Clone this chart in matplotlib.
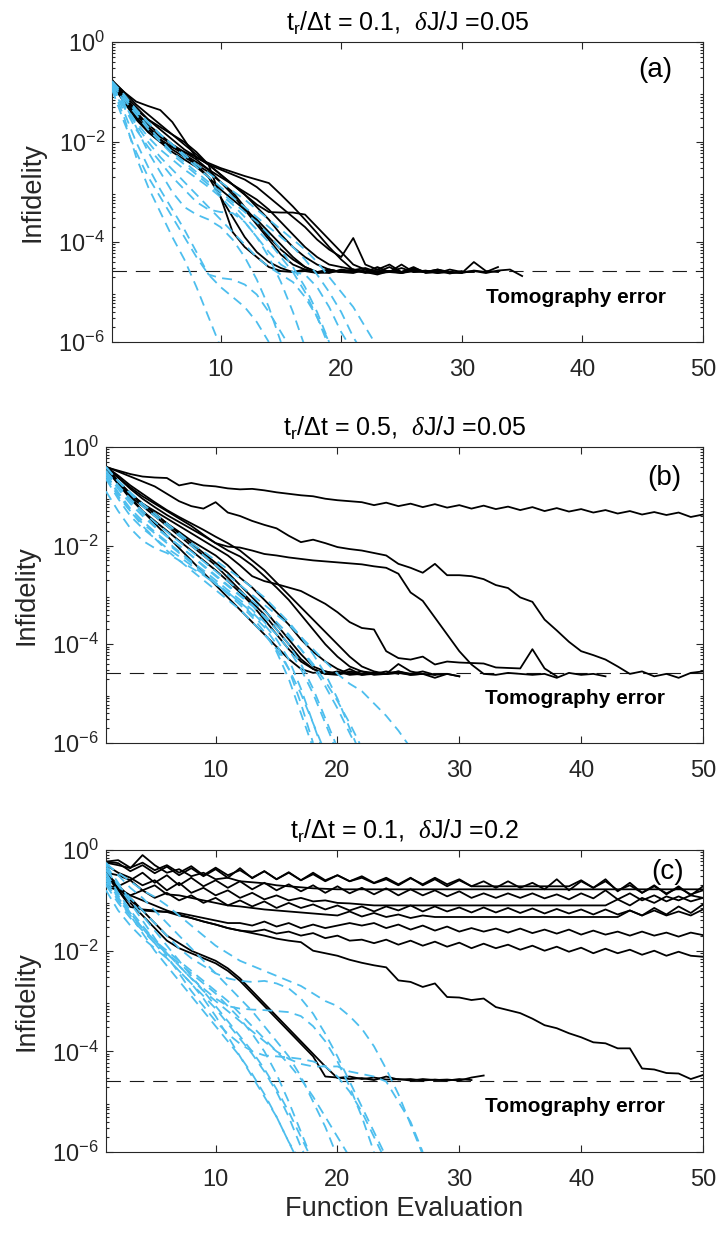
import numpy as np
import matplotlib
matplotlib.use("Agg")
import matplotlib.pyplot as plt
from matplotlib.ticker import LogLocator, LogFormatterMathtext, NullFormatter

plt.rcParams['font.family'] = ['Liberation Sans', 'DejaVu Sans']
plt.rcParams['mathtext.fontset'] = 'custom'
plt.rcParams['mathtext.rm'] = 'Liberation Sans'
plt.rcParams['mathtext.it'] = 'Liberation Serif:italic'
plt.rcParams['mathtext.bf'] = 'Liberation Sans:bold'

# log10(infidelity) per function evaluation (x = 1, 2, 3, ...)
tomo_err = 2.6e-5

# ---- panel (a): t_r/dt = 0.1, dJ/J = 0.05
a_black = [
    [-0.78, -1.0, -1.19, -1.28, -1.36, -1.6, -1.96, -2.32, -2.42, -2.52, -2.6, -2.68, -2.75, -2.82, -3.05,
     -3.29, -3.55, -3.82, -4.1, -4.35, -4.56, -4.52, -4.6, -4.58, -4.62, -4.55, -4.6, -4.57, -4.63, -4.58],
    [-0.8, -1.1, -1.35, -1.55, -1.7, -1.85, -2.0, -2.2, -2.45, -2.65, -2.85, -3.05, -3.25, -3.4, -3.41,
     -3.41, -3.45, -3.7, -3.95, -4.2, -4.45, -4.55, -4.6, -4.5, -4.62, -4.58, -4.6, -4.55, -4.6, -4.62,
     -4.57, -4.6, -4.5],
    [-0.82, -1.05, -1.3, -1.55, -1.75, -1.95, -2.15, -2.3, -2.45, -2.55, -2.65, -2.75, -2.9, -3.1, -3.3,
     -3.5, -3.7, -3.95, -4.15, -4.3, -3.92, -4.45, -4.55, -4.6, -4.52, -4.6, -4.57, -4.62, -4.55, -4.6,
     -4.58, -4.62, -4.57, -4.55, -4.68],
    [-0.75, -1.15, -1.5, -1.75, -1.95, -2.1, -2.2, -2.3, -2.45, -3.1, -3.8, -4.1, -4.3, -4.5, -4.58,
     -4.6, -4.55, -4.62, -4.6, -4.57, -4.6, -4.55, -4.62, -4.6],
    [-0.8, -1.1, -1.5, -1.8, -2.0, -2.2, -2.35, -2.5, -2.7, -3.1, -3.5, -3.9, -4.2, -4.4, -4.52,
     -4.6, -4.58, -4.62, -4.55, -4.6, -4.58, -4.6, -4.65, -4.58, -4.6, -4.55],
    [-0.78, -1.05, -1.4, -1.7, -1.95, -2.15, -2.3, -2.45, -2.6, -2.8, -3.0, -3.3, -3.6, -3.9, -4.15,
     -4.35, -4.5, -4.6, -4.55, -4.6, -4.62, -4.55, -4.6, -4.58, -4.6, -4.5, -4.62, -4.6],
    [-0.85, -1.2, -1.55, -1.8, -2.0, -2.1, -2.25, -2.4, -2.55, -2.7, -2.85, -3.0, -3.15, -3.35, -3.6,
     -3.85, -4.1, -4.3, -4.45, -4.5, -4.55, -4.6, -4.55, -4.45, -4.6, -4.58, -4.6, -4.55, -4.62, -4.6, -4.6],
    [-0.8, -1.1, -1.4, -1.65, -1.85, -2.05, -2.25, -2.45, -2.7, -2.95, -3.15, -3.35, -3.55, -3.8, -4.05,
     -4.3, -4.5, -4.6, -4.62, -4.55, -4.58, -4.6, -4.5, -4.6, -4.62, -4.55, -4.6],
    [-0.76, -1.0, -1.25, -1.45, -1.65, -1.85, -2.05, -2.25, -2.45, -2.65, -2.85, -3.05, -3.3, -3.55, -3.85,
     -4.1, -4.3, -4.45, -4.55, -4.6, -4.55, -4.62, -4.58, -4.6, -4.45, -4.6, -4.58, -4.62, -4.6],
    [-0.82, -1.15, -1.45, -1.7, -1.9, -2.05, -2.2, -2.35, -2.55, -2.8, -3.05, -3.35, -3.65, -3.95, -4.25,
     -4.45, -4.55, -4.6, -4.58, -4.6, -4.55, -4.6, -4.62, -4.58, -4.6, -4.52, -4.6, -4.58, -4.6, -4.62,
     -4.4, -4.58, -4.6],
]
a_blue = [
    [-0.9, -1.5, -2.3, -2.9, -3.4, -3.9, -4.35, -4.9, -5.5, -6.1],
    [-0.85, -1.4, -2.0, -2.5, -2.95, -3.35, -3.75, -4.2, -4.65, -4.72, -4.75, -4.85, -5.05, -5.4, -5.8, -6.2],
    [-0.8, -1.2, -1.7, -2.2, -2.6, -3.0, -3.3, -3.45, -3.55, -3.7, -3.95, -4.3, -4.75, -5.3, -6.0],
    [-0.9, -1.3, -1.75, -2.1, -2.4, -2.7, -2.95, -3.2, -3.35, -3.4, -3.42, -3.6, -3.9, -4.3, -4.8, -5.4, -6.1],
    [-0.8, -1.1, -1.4, -1.7, -1.95, -2.2, -2.4, -2.6, -2.8, -3.0, -3.2, -3.4, -3.6, -3.85, -4.15, -4.5,
     -4.9, -5.4, -6.0],
    [-0.85, -1.15, -1.45, -1.75, -2.0, -2.25, -2.45, -2.65, -2.85, -3.05, -3.25, -3.5, -3.75, -4.0, -4.3,
     -4.6, -5.0, -5.5, -6.1],
    [-0.78, -1.05, -1.35, -1.6, -1.85, -2.05, -2.3, -2.5, -2.7, -2.9, -3.1, -3.3, -3.5, -3.7, -3.9, -4.1,
     -4.35, -4.65, -5.0, -5.4, -5.9, -6.3],
    [-0.9, -1.3, -1.65, -2.0, -2.3, -2.55, -2.8, -3.05, -3.3, -3.55, -3.8, -4.05, -4.3, -4.5, -4.65, -4.8,
     -5.1, -5.5, -6.0],
    [-0.82, -1.1, -1.38, -1.62, -1.85, -2.05, -2.25, -2.45, -2.62, -2.8, -2.98, -3.15, -3.35, -3.55, -3.75,
     -3.95, -4.15, -4.4, -4.7, -5.0, -5.3, -5.7, -6.1],
    [-0.95, -1.6, -2.2, -2.7, -3.1, -3.5, -3.9, -4.3, -4.65, -4.9, -5.1, -5.3, -5.6, -6.0],
    [-0.88, -1.25, -1.6, -1.9, -2.15, -2.35, -2.55, -2.72, -2.9, -3.1, -3.35, -3.6, -3.9, -4.2, -4.45, -4.6,
     -4.65, -4.9, -5.3, -5.8, -6.2],
]

# ---- panel (b): t_r/dt = 0.5, dJ/J = 0.05
b_black = [
    [-0.41, -0.48, -0.55, -0.6, -0.62, -0.63, -0.78, -0.73, -0.78, -0.8, -0.84, -0.86, -0.85, -0.88, -0.92,
     -0.95, -0.98, -1.0, -1.05, -1.08, -1.1, -1.12, -1.18, -1.13, -1.2, -1.15, -1.22, -1.16, -1.23, -1.18,
     -1.25, -1.19, -1.26, -1.21, -1.28, -1.22, -1.3, -1.24, -1.31, -1.26, -1.33, -1.28, -1.35, -1.3, -1.37,
     -1.32, -1.38, -1.33, -1.42, -1.37],
    [-0.4, -0.5, -0.6, -0.7, -0.8, -0.95, -1.1, -1.2, -1.25, -1.12, -1.33, -1.4, -1.5, -1.58, -1.65,
     -1.8, -1.93, -1.88, -1.95, -2.03, -2.07, -2.1, -2.15, -2.2, -2.37, -2.45, -2.55, -2.37, -2.6, -2.6,
     -2.62, -2.68, -2.8, -2.86, -3.05, -3.14, -3.5, -3.72, -3.95, -4.14, -4.22, -4.31, -4.45, -4.6, -4.55,
     -4.65, -4.6, -4.68, -4.58, -4.55],
    [-0.4, -0.62, -0.82, -1.0, -1.15, -1.3, -1.45, -1.6, -1.78, -1.95, -2.02, -2.04, -2.1, -2.17, -2.2,
     -2.24, -2.27, -2.3, -2.32, -2.34, -2.36, -2.38, -2.42, -2.45, -2.57, -2.95, -3.12, -3.46, -3.8, -4.14,
     -4.41, -4.6, -4.62, -4.58, -4.6, -4.62, -4.6, -4.68, -4.58, -4.62, -4.6, -4.65],
    [-0.4, -0.7, -0.95, -1.15, -1.3, -1.45, -1.6, -1.75, -1.9, -2.05, -2.2, -2.4, -2.62, -2.72, -2.78,
     -2.85, -2.92, -3.05, -3.18, -3.35, -3.55, -3.67, -3.7, -4.14, -4.28, -4.31, -4.25, -4.41, -4.35, -4.37,
     -4.38, -4.39, -4.47, -4.48, -4.49, -4.1, -4.49, -4.65],
    [-0.4, -0.7, -1.0, -1.3, -1.55, -1.8, -2.05, -2.3, -2.55, -2.8, -3.05, -3.3, -3.55, -3.8, -4.05,
     -4.3, -4.5, -4.58, -4.55, -4.6, -4.5, -4.62, -4.58, -4.6, -4.55, -4.62, -4.6, -4.68, -4.6, -4.65],
    [-0.42, -0.7, -0.95, -1.15, -1.35, -1.55, -1.75, -1.95, -2.15, -2.35, -2.55, -2.8, -3.05, -3.3, -3.6,
     -3.9, -4.2, -4.45, -4.55, -4.6, -4.58, -4.62, -4.6, -4.55, -4.6],
    [-0.4, -0.58, -0.78, -0.95, -1.12, -1.28, -1.42, -1.55, -1.68, -1.82, -1.95, -2.1, -2.3, -2.5, -2.75,
     -3.0, -3.25, -3.5, -3.75, -4.0, -4.25, -4.45, -4.55, -4.6, -4.58, -4.62, -4.6],
    [-0.45, -0.75, -1.0, -1.2, -1.4, -1.6, -1.8, -2.0, -2.2, -2.4, -2.65, -2.9, -3.15, -3.4, -3.7,
     -4.0, -4.3, -4.5, -4.6, -4.55, -4.62, -4.6],
    [-0.4, -0.62, -0.85, -1.05, -1.22, -1.38, -1.52, -1.66, -1.8, -1.95, -2.1, -2.22, -2.4, -2.62, -2.85,
     -3.1, -3.4, -3.7, -4.0, -4.25, -4.45, -4.55, -4.58, -4.6, -4.4, -4.55, -4.6, -4.62],
    [-0.42, -0.75, -1.05, -1.3, -1.5, -1.7, -1.9, -2.1, -2.3, -2.5, -2.72, -2.95, -3.2, -3.5, -3.8,
     -4.1, -4.35, -4.5, -4.6, -4.62, -4.55, -4.6, -4.58, -4.6, -4.55, -4.6],
    [-0.4, -0.7, -0.95, -1.15, -1.35, -1.55, -1.72, -1.9, -2.05, -2.2, -2.4, -2.65, -2.85, -3.1, -3.35,
     -3.6, -3.9, -4.15, -4.35, -4.5, -4.6, -4.55, -4.62, -4.6, -4.58, -4.6, -4.55, -4.62, -4.6, -4.65],
]
b_blue = [
    [-0.55, -0.95, -1.3, -1.6, -1.85, -2.1, -2.3, -2.5, -2.7, -2.9, -3.1, -3.3, -3.55, -3.8, -4.1,
     -4.5, -5.0, -5.6, -6.2],
    [-0.5, -0.8, -1.1, -1.35, -1.6, -1.8, -2.0, -2.2, -2.4, -2.6, -2.8, -3.0, -3.2, -3.45, -3.7,
     -4.0, -4.4, -4.9, -5.5, -6.1],
    [-0.6, -1.0, -1.3, -1.55, -1.75, -1.95, -2.15, -2.35, -2.55, -2.75, -2.95, -3.15, -3.4, -3.65, -4.0,
     -4.5, -5.2, -6.0],
    [-0.9, -1.3, -1.65, -1.9, -2.05, -2.15, -2.3, -2.45, -2.6, -2.78, -2.95, -3.15, -3.35, -3.6, -3.9,
     -4.3, -4.9, -5.6, -6.3],
    [-0.42, -0.68, -0.92, -1.15, -1.35, -1.55, -1.75, -1.95, -2.12, -2.3, -2.48, -2.66, -2.85, -3.05, -3.3,
     -3.55, -3.85, -4.2, -4.6, -5.1, -5.7, -6.3],
    [-0.5, -0.85, -1.15, -1.4, -1.62, -1.82, -2.0, -2.2, -2.42, -2.62, -2.82, -3.02, -3.22, -3.42, -3.62,
     -3.85, -4.1, -4.4, -4.75, -5.15, -5.6, -6.1],
    [-0.4, -0.7, -0.95, -1.2, -1.4, -1.6, -1.8, -2.0, -2.2, -2.4, -2.6, -2.8, -3.0, -3.2, -3.4,
     -3.6, -3.85, -4.1, -4.35, -4.6, -4.8, -4.95, -5.2, -5.45, -5.75, -6.1],
    [-0.55, -0.92, -1.25, -1.5, -1.72, -1.92, -2.12, -2.32, -2.5, -2.7, -2.9, -3.1, -3.3, -3.55, -3.8,
     -4.1, -4.5, -5.0, -5.6, -6.2],
    [-0.65, -1.05, -1.4, -1.65, -1.85, -2.05, -2.22, -2.4, -2.58, -2.78, -2.98, -3.2, -3.45, -3.75, -4.15,
     -4.7, -5.4, -6.1],
    [-0.48, -0.78, -1.05, -1.3, -1.52, -1.72, -1.92, -2.12, -2.32, -2.52, -2.72, -2.92, -3.12, -3.32, -3.55,
     -3.8, -4.1, -4.45, -4.85, -5.3, -5.8, -6.3],
]

# ---- panel (c): t_r/dt = 0.1, dJ/J = 0.2
c_black = [
    [-0.25, -0.3, -0.36, -0.1, -0.3, -0.45, -0.38, -0.52, -0.45, -0.58, -0.55, -0.62, -0.64, -0.66, -0.7,
     -0.72, -0.74, -0.76, -0.77, -0.78, -0.78, -0.78, -0.78, -0.78, -0.78, -0.78, -0.78, -0.78, -0.78, -0.78,
     -0.78, -0.78, -0.78, -0.78, -0.78, -0.78, -0.78, -0.78, -0.78, -0.78, -0.78, -0.78, -0.78, -0.78, -0.78,
     -0.78, -0.78, -0.78, -0.78, -0.78],
    [-0.23, -0.26, -0.42, -0.3, -0.46, -0.33, -0.5, -0.36, -0.52, -0.38, -0.55, -0.36, -0.56, -0.42, -0.58,
     -0.44, -0.6, -0.45, -0.6, -0.5, -0.62, -0.55, -0.66, -0.58, -0.7, -0.56, -0.68, -0.55, -0.68, -0.58,
     -0.72, -0.72, -0.72, -0.72, -0.72, -0.72, -0.72, -0.72, -0.72, -0.6, -0.75, -0.62, -0.8, -0.7, -0.85,
     -0.72, -0.86, -0.75, -0.88, -0.8],
    [-0.45, -0.5, -0.6, -0.45, -0.65, -0.5, -0.7, -0.55, -0.72, -0.6, -0.75, -0.62, -0.78, -0.65, -0.8,
     -0.68, -0.82, -0.7, -0.85, -0.72, -0.86, -0.75, -0.88, -0.76, -0.9, -0.78, -0.9, -0.8, -0.92, -0.82,
     -0.95, -0.86, -0.95, -0.86, -0.95, -0.86, -0.96, -0.88, -0.98, -0.86, -0.96, -0.8, -0.98, -0.86, -1.0,
     -0.9, -1.02, -0.92, -1.02, -0.95],
    [-0.3, -0.45, -0.55, -0.7, -0.6, -0.8, -0.65, -0.85, -0.75, -0.9, -0.8, -0.95, -0.85, -0.98, -0.9,
     -1.0, -0.95, -1.02, -1.0, -1.05, -1.06, -1.08, -1.1, -1.1, -1.1, -1.1, -1.1, -1.1, -1.1, -1.1,
     -1.1, -1.1, -1.1, -1.1, -1.1, -1.1, -1.1, -1.1, -1.1, -1.1, -1.1, -1.1, -0.98, -1.1, -0.95,
     -1.05, -0.92, -1.0, -0.9, -0.95],
    [-0.7, -0.75, -0.9, -0.8, -0.95, -0.85, -1.0, -0.9, -1.05, -0.95, -1.1, -1.0, -1.12, -1.02, -1.15,
     -1.05, -1.15, -1.08, -1.18, -1.1, -1.2, -1.12, -1.22, -1.12, -1.2, -1.1, -1.22, -1.12, -1.22, -1.14,
     -1.24, -1.14, -1.24, -1.15, -1.25, -1.16, -1.26, -1.17, -1.26, -1.18, -1.28, -1.18, -1.28, -1.2, -1.3,
     -1.2, -1.3, -1.22, -1.3, -1.18],
    [-0.5, -0.72, -0.6, -0.8, -0.7, -0.88, -0.9, -0.95, -1.0, -1.05, -1.1, -1.12, -1.15, -1.18, -1.2,
     -1.22, -1.24, -1.26, -1.28, -1.3, -1.22, -1.32, -1.25, -1.33, -1.28, -1.35, -1.3, -1.33, -1.33, -1.33,
     -1.33, -1.33, -1.33, -1.33, -1.33, -1.33, -1.33, -1.33, -1.33, -1.33, -1.33, -1.33, -1.33, -1.2, -1.3,
     -1.15, -1.28, -1.12, -1.25, -1.08],
    [-0.45, -0.7, -0.95, -1.2, -1.22, -1.23, -1.25, -1.3, -1.35, -1.4, -1.45, -1.45, -1.5, -1.42, -1.52,
     -1.45, -1.55, -1.48, -1.55, -1.5, -1.45, -1.5, -1.45, -1.55, -1.48, -1.58, -1.5, -1.6, -1.52, -1.62,
     -1.55, -1.62, -1.56, -1.64, -1.56, -1.65, -1.58, -1.66, -1.58, -1.68, -1.6, -1.68, -1.62, -1.7, -1.62,
     -1.7, -1.64, -1.72, -1.64, -1.69],
    [-0.72, -0.8, -0.9, -1.0, -1.1, -1.2, -1.28, -1.35, -1.42, -1.48, -1.55, -1.6, -1.62, -1.58, -1.66,
     -1.62, -1.7, -1.65, -1.75, -1.7, -1.8, -1.78, -1.85, -1.78, -1.88, -1.8, -1.9, -1.82, -1.92, -1.84,
     -1.95, -1.86, -1.95, -1.88, -1.98, -1.9, -2.0, -1.92, -2.02, -1.94, -2.05, -1.96, -2.05, -1.98, -2.08,
     -2.0, -2.1, -2.02, -2.1, -2.12],
    [-0.45, -0.8, -1.13, -1.18, -1.2, -1.23, -1.3, -1.35, -1.42, -1.48, -1.55, -1.6, -1.65, -1.7, -1.76,
     -1.8, -1.83, -2.0, -2.05, -2.1, -2.18, -2.24, -2.29, -2.33, -2.59, -2.62, -2.72, -2.65, -2.92, -2.93,
     -2.98, -2.95, -3.12, -3.18, -3.24, -3.35, -3.48, -3.54, -3.64, -3.72, -3.82, -3.84, -3.94, -3.94, -4.34,
     -4.36, -4.43, -4.44, -4.55, -4.47],
    [-0.46, -0.75, -1.0, -1.2, -1.45, -1.7, -1.85, -2.0, -2.1, -2.2, -2.35, -2.55, -2.8, -3.05, -3.3,
     -3.55, -3.8, -4.05, -4.3, -4.53, -4.5, -4.55, -4.52, -4.56, -4.55, -4.58, -4.55, -4.57, -4.56, -4.58,
     -4.52, -4.48],
    [-0.5, -0.8, -1.05, -1.3, -1.55, -1.8, -1.95, -2.05, -2.15, -2.25, -2.4, -2.6, -2.85, -3.1, -3.35,
     -3.6, -3.85, -4.1, -4.5, -4.52, -4.55, -4.53, -4.57, -4.5, -4.56, -4.55, -4.58, -4.56, -4.58, -4.55,
     -4.57],
    [-0.23, -0.2, -0.35, -0.25, -0.4, -0.3, -0.45, -0.32, -0.5, -0.35, -0.5, -0.4, -0.55, -0.42, -0.58,
     -0.45, -0.6, -0.48, -0.62, -0.5, -0.62, -0.52, -0.65, -0.55, -0.68, -0.55, -0.7, -0.58, -0.72, -0.6,
     -0.72, -0.62, -0.75, -0.62, -0.75, -0.65, -0.78, -0.58, -0.8, -0.62, -0.75, -0.58, -0.82, -0.65, -0.85,
     -0.7, -0.88, -0.72, -0.9, -0.72],
]
c_blue = [
    [-0.3, -0.65, -1.0, -1.3, -1.6, -1.9, -2.2, -2.5, -2.8, -3.1, -3.4, -3.7, -4.0, -4.35, -4.75,
     -5.2, -5.7, -6.2],
    [-0.5, -0.9, -1.25, -1.55, -1.85, -2.15, -2.4, -2.65, -2.9, -3.15, -3.45, -3.75, -4.05, -4.4, -4.8,
     -5.3, -5.9, -6.4],
    [-0.7, -1.05, -1.35, -1.6, -1.85, -2.05, -2.25, -2.45, -2.65, -2.85, -3.1, -3.35, -3.65, -4.0, -4.45,
     -5.0, -5.6, -6.2],
    [-0.8, -1.2, -1.5, -1.75, -1.95, -2.15, -2.4, -2.65, -2.95, -3.3, -3.7, -4.1, -4.5, -4.9, -5.3,
     -5.8, -6.2],
    [-0.25, -0.5, -0.75, -0.95, -1.2, -1.45, -1.7, -1.95, -2.2, -2.45, -2.7, -2.95, -3.2, -3.5, -3.8,
     -4.1, -4.5, -5.0, -5.5, -6.1],
    [-0.4, -0.7, -0.95, -1.2, -1.45, -1.7, -1.95, -2.15, -2.3, -2.45, -2.55, -2.6, -2.62, -2.6, -2.65,
     -2.75, -2.95, -3.25, -3.65, -4.1, -4.6, -5.1, -5.6, -6.1],
    [-0.6, -0.95, -1.25, -1.55, -1.8, -2.05, -2.3, -2.55, -2.75, -2.95, -3.1, -3.15, -3.17, -3.18, -3.2,
     -3.22, -3.3, -3.5, -3.8, -4.2, -4.7, -5.3, -6.0],
    [-0.35, -0.7, -1.05, -1.4, -1.75, -2.1, -2.45, -2.8, -3.1, -3.4, -3.65, -3.85, -4.0, -4.08, -4.1,
     -4.12, -4.15, -4.2, -4.3, -4.5, -4.8, -5.2, -5.7, -6.2],
    [-0.28, -0.45, -0.62, -0.8, -0.93, -1.1, -1.3, -1.5, -1.7, -1.9, -2.05, -2.2, -2.3, -2.4, -2.5,
     -2.6, -2.7, -2.85, -3.0, -3.1, -3.3, -3.55, -3.9, -4.35, -4.85, -5.45, -6.05],
    [-0.45, -0.85, -1.2, -1.5, -1.8, -2.05, -2.3, -2.55, -2.8, -3.0, -3.2, -3.4, -3.6, -3.8, -4.0,
     -4.15, -4.25, -4.3, -4.3, -4.3, -4.4, -4.45, -4.5, -4.6, -5.0, -5.4, -6.0],
    [-0.55, -0.95, -1.3, -1.65, -2.0, -2.3, -2.6, -2.9, -3.2, -3.5, -3.8, -4.1, -4.45, -4.85, -5.3,
     -5.8, -6.3],
    [-0.65, -1.0, -1.3, -1.55, -1.8, -2.0, -2.2, -2.4, -2.6, -2.8, -3.0, -3.25, -3.5, -3.75, -4.0,
     -4.25, -4.55, -4.9, -5.3, -5.7, -6.1],
]

titles = [r'$\mathrm{t_r}$/Δt = 0.1,  $\delta$J/J =0.05',
          r'$\mathrm{t_r}$/Δt = 0.5,  $\delta$J/J =0.05',
          r'$\mathrm{t_r}$/Δt = 0.1,  $\delta$J/J =0.2']
tags = ['(a)', '(b)', '(c)']
tag_pos = [(0.92, 0.907), (0.936, 0.895), (0.94, 0.927)]

# axes rectangles [left, bottom, width, height] in figure fraction
rects = [[0.1558, 0.7235, 0.822, 0.2425],
         [0.1474, 0.3994, 0.8303, 0.2393],
         [0.1474, 0.0687, 0.8303, 0.2441]]

blue = '#4DBEEE'
axc = '#262626'

fig = plt.figure(figsize=(7.19, 12.37), dpi=100)

panels = [(a_black, a_blue), (b_black, b_blue), (c_black, c_blue)]
for i, (blk, blu) in enumerate(panels):
    ax = fig.add_axes(rects[i])
    for c in blk:
        x = np.arange(1, len(c) + 1)
        ax.plot(x, 10.0 ** np.array(c), color='k', lw=1.3, zorder=2)
    for c in blu:
        x = np.arange(1, len(c) + 1)
        ax.plot(x, 10.0 ** np.array(c), color=blue, lw=1.3, dashes=(5.5, 3.5), zorder=3)
    ax.axhline(tomo_err, color='#1a1a1a', lw=0.8, dashes=(13, 8), zorder=1)

    ax.set_yscale('log')
    ax.set_xlim(1, 50)
    ax.set_ylim(1e-6, 1)
    ax.set_xticks([10, 20, 30, 40, 50])
    ax.set_yticks([1e-6, 1e-4, 1e-2, 1])
    ax.yaxis.set_major_formatter(LogFormatterMathtext())
    ax.yaxis.set_minor_locator(LogLocator(base=10, subs=np.arange(2, 10), numticks=20))
    ax.yaxis.set_minor_formatter(NullFormatter())
    ax.tick_params(which='both', direction='in', top=True, right=True, color=axc, width=0.8)
    ax.tick_params(which='major', length=5, labelsize=17, labelcolor=axc)
    ax.tick_params(which='minor', length=2.5)
    ax.tick_params(axis='x', pad=12)
    ax.tick_params(axis='y', pad=5)
    for s in ax.spines.values():
        s.set_color(axc)
        s.set_linewidth(0.8)

    ax.set_ylabel('Infidelity', fontsize=19.5, color=axc)
    ax.yaxis.set_label_coords(-0.112, 0.5)
    ax.set_title(titles[i], fontsize=18, color='k', pad=8)
    ax.text(tag_pos[i][0], tag_pos[i][1], tags[i], transform=ax.transAxes, fontsize=20,
            ha='center', va='center', color='k')
    ax.text(0.785, 0.15, 'Tomography error', transform=ax.transAxes, fontsize=15,
            fontweight='bold', ha='center', va='center', color='k')
    if i == 2:
        ax.set_xlabel('Function Evaluation', fontsize=19.5, color=axc, labelpad=4)

fig.savefig('out.png', dpi=100)
